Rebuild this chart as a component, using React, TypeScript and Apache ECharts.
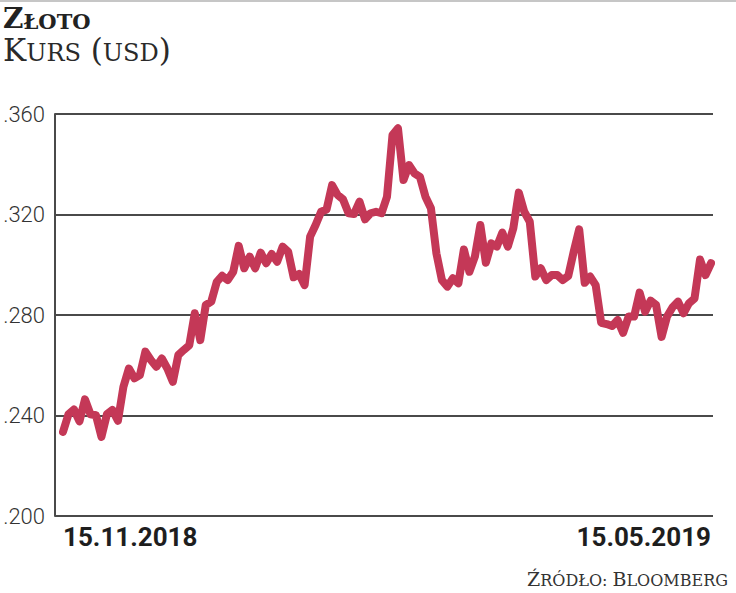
import React, { useEffect, useRef } from 'react';
import * as echarts from 'echarts';

const titleBig = 'Z';
const titleSmall = 'ŁOTO';
const subtitleParts = ['K', 'URS', ' (', 'USD', ')'];
const sourceParts = ['Ź', 'RÓDŁO: ', 'B', 'LOOMBERG'];
const xLabels = ['15.11.2018', '15.05.2019'];
const yTicks = [1200, 1240, 1280, 1320, 1360];
const values = [
  1233.5, 1240.5, 1242.4, 1237.7, 1246.4, 1240.5, 1240.1, 1231.5, 1240.5, 1242.2,
  1237.9, 1251.4, 1258.7, 1254.8, 1256.1, 1265.4, 1262.1, 1259.4, 1262.7, 1258.7,
  1253.4, 1264.1, 1266.1, 1268.0, 1280.7, 1270.0, 1284.0, 1285.3, 1293.2, 1295.6,
  1293.9, 1297.2, 1307.5, 1298.6, 1303.2, 1298.6, 1304.8, 1300.6, 1304.3, 1301.2,
  1307.2, 1305.2, 1295.0, 1296.3, 1291.9, 1311.2, 1315.8, 1321.1, 1322.0, 1331.7,
  1327.8, 1326.0, 1320.5, 1320.2, 1325.1, 1318.1, 1320.5, 1321.1, 1320.5, 1327.1,
  1351.6, 1354.3, 1333.7, 1339.7, 1336.4, 1335.0, 1327.1, 1322.5, 1304.5, 1293.9,
  1291.3, 1294.6, 1292.6, 1306.1, 1297.2, 1303.2, 1315.8, 1300.8, 1308.5, 1307.2,
  1312.8, 1307.2, 1314.5, 1328.7, 1321.1, 1317.1, 1295.3, 1298.6, 1293.9, 1295.9,
  1295.9, 1293.9, 1295.5, 1305.2, 1314.1, 1292.8, 1295.3, 1291.9, 1276.9, 1276.4,
  1275.6, 1278.0, 1272.9, 1279.4, 1279.4, 1288.9, 1281.3, 1285.7, 1284.0, 1271.3,
  1279.4, 1283.1, 1285.3, 1280.7, 1284.7, 1286.6, 1302.1, 1295.9, 1300.6,
];

// The reference shows only the part after the thousands digit (".360"), the rest is cut off.
const fmtY = (v: number) => `.${String(v % 1000).padStart(3, '0')}`;

export default function App() {
  const ref = useRef<HTMLDivElement>(null);
  useEffect(() => {
    if (!ref.current) return;
    const chart = echarts.init(ref.current, null, { renderer: 'svg' });
    const lastIdx = values.length - 1;
    const serif = 'DejaVu Serif';
    chart.setOption({
      animation: false,
      backgroundColor: '#ffffff',
      grid: [
        { left: 55, right: 23, top: 114, bottom: 77, containLabel: false, outerBoundsMode: 'none' },
        { left: 63, right: 25, top: 114, bottom: 77, containLabel: false, outerBoundsMode: 'none' },
      ],
      xAxis: [
        { gridIndex: 0, type: 'value', min: 0, max: 1, show: false },
        {
          gridIndex: 1,
          type: 'value',
          min: 0,
          max: lastIdx,
          interval: lastIdx,
          axisLine: { show: false },
          axisTick: { show: false },
          splitLine: { show: false },
          axisLabel: {
            formatter: (v: number) => (v === 0 ? xLabels[0] : xLabels[1]),
            alignMinLabel: 'left',
            alignMaxLabel: 'right',
            fontFamily: 'Roboto',
            fontSize: 26,
            fontWeight: 'bold',
            color: '#1e1e1e',
            margin: 8,
          },
        },
      ],
      yAxis: [
        {
          gridIndex: 0,
          type: 'value',
          min: yTicks[0],
          max: yTicks[yTicks.length - 1],
          interval: yTicks[1] - yTicks[0],
          axisLine: { show: true, onZero: false, lineStyle: { color: '#4a4a4a', width: 2 } },
          axisTick: { show: false },
          splitLine: { show: true, lineStyle: { color: '#4a4a4a', width: 2 } },
          axisLabel: {
            formatter: (v: number) => fmtY(v),
            fontFamily: 'Roboto',
            fontSize: 22,
            fontWeight: 300,
            color: '#333333',
            margin: 10,
          },
        },
        { gridIndex: 1, type: 'value', min: yTicks[0], max: yTicks[yTicks.length - 1], show: false },
      ],
      series: [
        {
          type: 'line',
          xAxisIndex: 1,
          yAxisIndex: 1,
          data: values.map((v, i) => [i, v]),
          showSymbol: false,
          lineStyle: { color: '#c43857', width: 8, cap: 'round', join: 'round' },
        },
      ],
      graphic: [
        { type: 'rect', shape: { x: 0, y: 0, width: 736, height: 2 }, style: { fill: '#c6c6c6' } },
        {
          type: 'text',
          left: 3,
          top: 4,
          style: {
            text: `{a|${titleBig}}{b|${titleSmall}}`,
            rich: {
              a: { fontFamily: serif, fontWeight: 'bold', fontSize: 28, lineHeight: 28, fill: '#222', verticalAlign: 'bottom' },
              b: { fontFamily: serif, fontWeight: 'bold', fontSize: 21, lineHeight: 23.2, fill: '#222', verticalAlign: 'bottom' },
            },
          },
        },
        {
          type: 'text',
          left: 3,
          top: 34,
          style: {
            text: `{a|${subtitleParts[0]}}{b|${subtitleParts[1]}}{a|${subtitleParts[2]}}{b|${subtitleParts[3]}}{a|${subtitleParts[4]}}`,
            rich: {
              a: { fontFamily: serif, fontSize: 31, lineHeight: 32, fill: '#2a2a2a', verticalAlign: 'bottom' },
              b: { fontFamily: serif, fontSize: 24, lineHeight: 27.2, fill: '#2a2a2a', verticalAlign: 'bottom' },
            },
          },
        },
        {
          type: 'text',
          right: 8,
          top: 569,
          style: {
            text: `{a|${sourceParts[0]}}{b|${sourceParts[1]}}{a|${sourceParts[2]}}{b|${sourceParts[3]}}`,
            rich: {
              a: { fontFamily: serif, fontSize: 19, lineHeight: 21, fill: '#333', verticalAlign: 'bottom' },
              b: { fontFamily: serif, fontSize: 16, lineHeight: 18.9, fill: '#333', verticalAlign: 'bottom' },
            },
          },
        },
      ],
    });
    return () => chart.dispose();
  }, []);
  return <div ref={ref} style={{ position: 'absolute', left: 0, top: 0, width: 736, height: 593 }} />;
}
